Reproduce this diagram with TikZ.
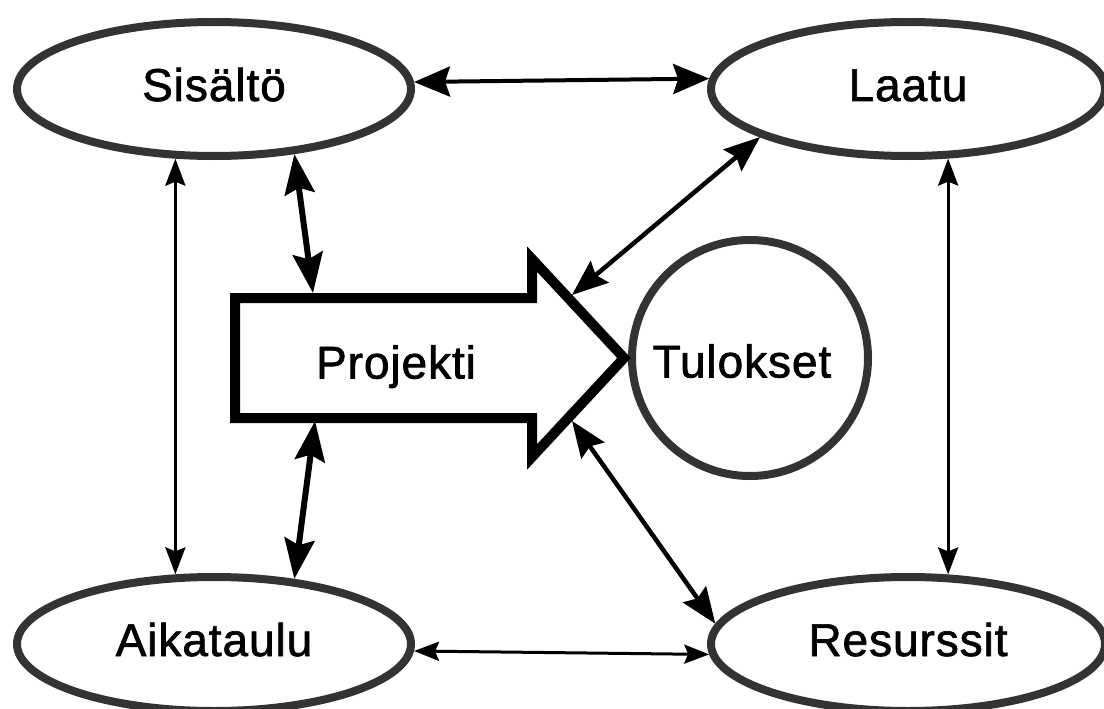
\documentclass[tikz,border=0pt]{standalone}
\usepackage{fontspec}
\setmainfont{Liberation Sans}[LetterSpace=2.0,FakeBold=1.5]
\usetikzlibrary{arrows.meta,shapes.geometric}
\begin{document}
\begin{tikzpicture}[x=1pt,y=-1pt,
  ell/.style={ellipse, draw=black!80, line width=8pt, fill=white,
    minimum width=394pt, minimum height=134pt, inner sep=0pt,
    font=\fontsize{46}{52}\selectfont, text height=33pt, text depth=9pt},
  res/.style={circle, draw=black!80, line width=8pt, fill=white,
    minimum size=236pt, inner sep=0pt,
    font=\fontsize{46}{52}\selectfont, text height=39pt, text depth=0pt},
  projshape/.style={draw=black, line width=10pt, fill=white, line join=miter},
  lbl/.style={inner sep=0pt, font=\fontsize{46}{52}\selectfont,
    text height=33pt, text depth=0pt},
  conbig/.style={line width=4pt, <->, >={Stealth[length=36pt,width=30pt,inset=5pt]}},
  consmall/.style={line width=3pt, <->, >={Stealth[length=25pt,width=19pt,inset=4pt]}},
  convert/.style={line width=3pt, <->, >={Stealth[length=27pt,width=20pt,inset=4pt]}},
  conthick/.style={line width=6pt, <->, >={Stealth[length=40pt,width=30pt,inset=6pt]}},
  condiag/.style={line width=4.5pt, <->, >={Stealth[length=36pt,width=28pt,inset=5pt]}},
]
\useasboundingbox (0,0) rectangle (1104,709);

% ellipses
\node[ell] (sis) at (214,89) {Sisältö};
\node[ell] (laa) at (908,89) {Laatu};
\node[ell] (aik) at (214,644) {Aikataulu};
\node[ell] (res) at (908,644) {Resurssit};

% result circle
\node[res] (tul) at (750,358) {Tulokset\hspace*{16pt}};

% project arrow
\draw[projshape] (235,298) -- (532,298) -- (532,259) -- (624,358)
  -- (532,457) -- (532,418) -- (235,418) -- cycle;
\node[lbl] (projekti) at (396,362) {Projekti};
\coordinate (pT) at (313,293);
\coordinate (pB) at (315,421);
\coordinate (pHU) at (572,295);
\coordinate (pHL) at (572,421);

% connectors
\draw[conbig] (sis.2.58) -- (laa.177.42);
\draw[consmall] (aik.-2.58) -- (res.-177.42);
\draw[convert] (sis.-119.25) -- (aik.119.25);
\draw[convert] (laa.-60.1) -- (res.60.1);
\draw[conthick] (sis.-39) -- (pT);
\draw[conthick] (pB) -- (aik.39.9);
\draw[condiag] (laa.-162.8) -- (pHU);
\draw[condiag] (pHL) -- (res.174);
\end{tikzpicture}
\end{document}
